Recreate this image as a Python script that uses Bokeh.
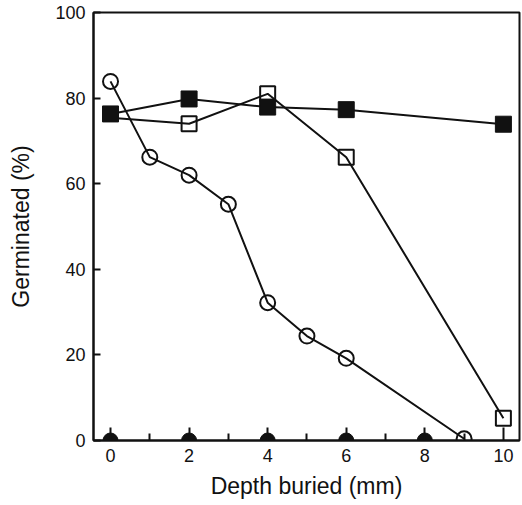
from bokeh.plotting import figure
from bokeh.models import Range1d, FixedTicker
from bokeh.embed import file_html
from bokeh.resources import INLINE

# Data
filled_sq_x = [0, 2, 4, 6, 10]
filled_sq_y = [76.3, 79.8, 77.9, 77.3, 73.9]

open_sq_x = [0, 2, 4, 6, 10]
open_sq_y = [75.4, 74.0, 81.0, 66.2, 5.2]

open_circ_x = [0, 1, 2, 3, 4, 5, 6, 9]
open_circ_y = [83.9, 66.2, 62.0, 55.2, 32.2, 24.4, 19.2, 0.4]

filled_circ_x = [0, 2, 4, 6, 8]
filled_circ_y = [0, 0, 0, 0, 0]

x_ticks = [0, 2, 4, 6, 8, 10]
x_minor_ticks = [1, 3, 5, 7, 9]
y_ticks = [0, 20, 40, 60, 80, 100]

FONT = "Liberation Sans"
INK = "#111111"

p = figure(width=522, height=505, output_backend="svg", toolbar_location=None,
           x_range=Range1d(-0.433, 10.41), y_range=Range1d(0, 100),
           min_border_left=93, min_border_right=3, min_border_top=12, min_border_bottom=65)

p.xgrid.visible = False
p.ygrid.visible = False
p.outline_line_color = INK
p.outline_line_width = 2
p.background_fill_color = "white"
p.border_fill_color = "white"

# lines
p.line(open_circ_x, open_circ_y, line_color=INK, line_width=2)
p.line(open_sq_x, open_sq_y, line_color=INK, line_width=2)
p.line(filled_sq_x, filled_sq_y, line_color=INK, line_width=2)

# markers (open markers are unfilled: lines show through)
p.scatter(open_circ_x, open_circ_y, marker="circle", size=15, fill_color=None,
          line_color=INK, line_width=2)
# the open square at depth 0 is hidden under the filled square in the reference
p.scatter(open_sq_x[1:], open_sq_y[1:], marker="square", size=15, fill_color=None,
          line_color=INK, line_width=2)
p.scatter(filled_sq_x, filled_sq_y, marker="square", size=16, fill_color=INK,
          line_color=INK, line_width=1)
p.scatter(filled_circ_x, filled_circ_y, marker="circle", size=15, fill_color=INK,
          line_color=INK, line_width=1)

for ax in (p.xaxis[0], p.yaxis[0]):
    ax.axis_line_width = 2
    ax.axis_line_color = INK
    ax.major_tick_out = 0
    ax.major_tick_line_width = 2
    ax.major_tick_line_color = INK
    ax.major_label_text_font = FONT
    ax.major_label_text_font_size = "18px"
    ax.major_label_text_color = INK
    ax.axis_label_text_font = FONT
    ax.axis_label_text_font_size = "23px"
    ax.axis_label_text_font_style = "normal"
    ax.axis_label_text_color = INK

p.xaxis.ticker = FixedTicker(ticks=x_ticks, minor_ticks=x_minor_ticks)
p.xaxis.major_tick_in = 13
p.xaxis.minor_tick_in = 7
p.xaxis.minor_tick_out = 0
p.xaxis.minor_tick_line_width = 2
p.xaxis.minor_tick_line_color = INK
p.xaxis.major_label_standoff = 8
p.xaxis.axis_label = "Depth buried (mm)"
p.xaxis.axis_label_standoff = 8

p.yaxis.ticker = FixedTicker(ticks=y_ticks)
p.yaxis.major_tick_in = 7
p.yaxis.minor_tick_line_color = None
p.yaxis.major_label_standoff = 8
p.yaxis.axis_label = "Germinated (%)"
p.yaxis.axis_label_standoff = 18

open("out.html", "w").write(file_html(p, INLINE))
